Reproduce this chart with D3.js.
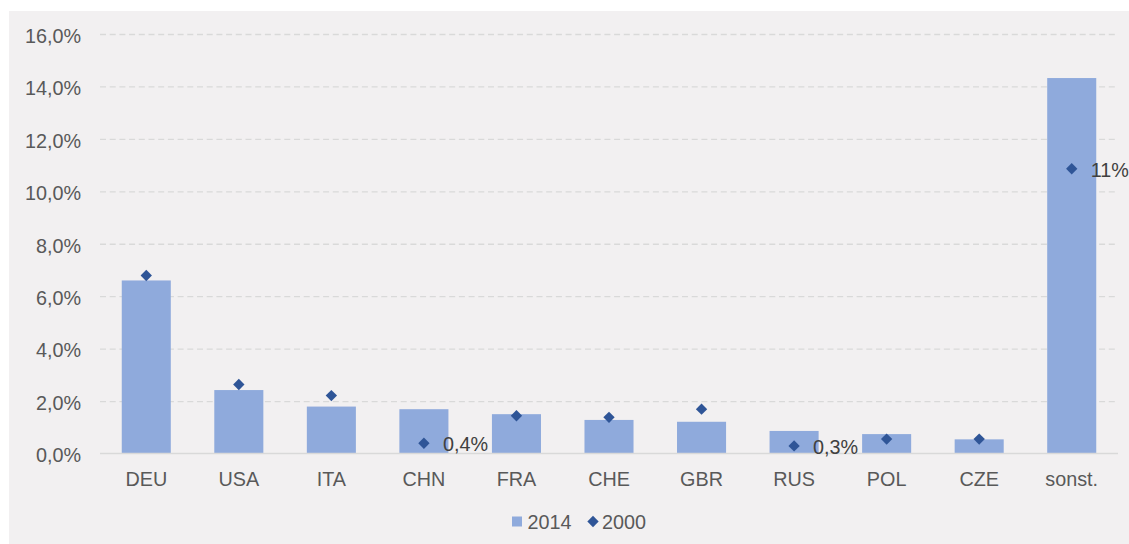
<!DOCTYPE html>
<html>
<head>
<meta charset="utf-8">
<script src="https://cdn.jsdelivr.net/npm/d3@7"></script>
<style>
  html, body { margin: 0; padding: 0; background: #ffffff; }
  svg { display: block; }
  text { font-family: "Liberation Sans", Arial, sans-serif; }
</style>
</head>
<body>
<svg id="chart" width="1129" height="544"></svg>
<script>
const categories = ["DEU", "USA", "ITA", "CHN", "FRA", "CHE", "GBR", "RUS", "POL", "CZE", "sonst."];
const values2014 = [6.6, 2.42, 1.79, 1.69, 1.5, 1.28, 1.21, 0.86, 0.74, 0.54, 14.32];
const values2000 = [6.79, 2.63, 2.21, 0.39, 1.44, 1.38, 1.69, 0.29, 0.55, 0.55, 10.86];
const labels2000 = ["", "", "", "0,4%", "", "", "", "0,3%", "", "", "11%"];
const yTicks = [0, 2, 4, 6, 8, 10, 12, 14, 16];
const seriesNames = ["2014", "2000"];

const W = 1129, H = 544;
const margin = { left: 100, right: 11, top: 34, bottom: 90.5 };
const fontSize = 19.8;
const barColor = "#8faadc", dotColor = "#2f5597";
const axisText = "#595959", labelText = "#404040", gridColor = "#d9d9d9";

const svg = d3.select("#chart");
svg.append("rect").attr("x", 9).attr("y", 11).attr("width", W - 9).attr("height", H - 11).attr("fill", "#f2f0f1");

const x = d3.scaleBand().domain(categories).range([margin.left, W - margin.right]).paddingInner(0.47).paddingOuter(0.235);
const y = d3.scaleLinear().domain([0, 16]).range([H - margin.bottom, margin.top]);

const loc = d3.formatLocale({ decimal: ",", thousands: ".", grouping: [3], currency: ["", "€"] });
const f1 = loc.format(".1f");

// grid + y axis
const yAxis = d3.axisLeft(y).tickValues(yTicks).tickSize(0).tickPadding(19).tickFormat(d => f1(d) + "%");
const gy = svg.append("g").attr("transform", `translate(${margin.left},0)`).call(yAxis);
gy.select(".domain").remove();
gy.selectAll("text").attr("fill", axisText).attr("dy", "0.42em").style("font-size", fontSize + "px");
gy.selectAll(".tick").filter(d => d !== 0).append("line")
  .attr("x1", 0).attr("x2", W - margin.right - margin.left)
  .attr("stroke", gridColor).attr("stroke-width", 1.3).attr("stroke-dasharray", "6,3.7");

// bars
svg.append("g").selectAll("rect").data(categories).join("rect")
  .attr("x", d => x(d)).attr("width", x.bandwidth())
  .attr("y", (d, i) => y(values2014[i]))
  .attr("height", (d, i) => y(0) - y(values2014[i]))
  .attr("fill", barColor);

// x axis
const xAxis = d3.axisBottom(x).tickSize(0).tickPadding(18.5);
const gx = svg.append("g").attr("transform", `translate(0,${y(0)})`).call(xAxis);
gx.select(".domain").attr("stroke", gridColor).attr("stroke-width", 1.3)
  .attr("d", `M${margin.left},0H${W - margin.right}`);
gx.selectAll("text").attr("fill", axisText).style("font-size", fontSize + "px");

// diamonds
const diamond = d3.symbol().type(d3.symbolDiamond2).size(82);
svg.append("g").selectAll("path").data(categories).join("path")
  .attr("d", diamond)
  .attr("transform", (d, i) => `translate(${x(d) + x.bandwidth() / 2},${y(values2000[i])})`)
  .attr("fill", dotColor);

// data labels
svg.append("g").selectAll("text").data(categories).join("text")
  .attr("x", d => x(d) + x.bandwidth() / 2 + 19)
  .attr("y", (d, i) => y(values2000[i]))
  .attr("dy", "0.4em")
  .attr("fill", labelText).style("font-size", fontSize + "px")
  .text((d, i) => labels2000[i]);

// legend
const lg = svg.append("g").attr("transform", "translate(512,521.5)");
lg.append("rect").attr("x", 0).attr("y", -5).attr("width", 10).attr("height", 10).attr("fill", barColor);
lg.append("text").attr("x", 15.5).attr("y", 0).attr("dy", "0.38em").attr("fill", axisText)
  .style("font-size", fontSize + "px").text(seriesNames[0]);
lg.append("path").attr("d", diamond).attr("transform", "translate(81,0)").attr("fill", dotColor);
lg.append("text").attr("x", 90).attr("y", 0).attr("dy", "0.38em").attr("fill", axisText)
  .style("font-size", fontSize + "px").text(seriesNames[1]);
</script>
</body>
</html>
